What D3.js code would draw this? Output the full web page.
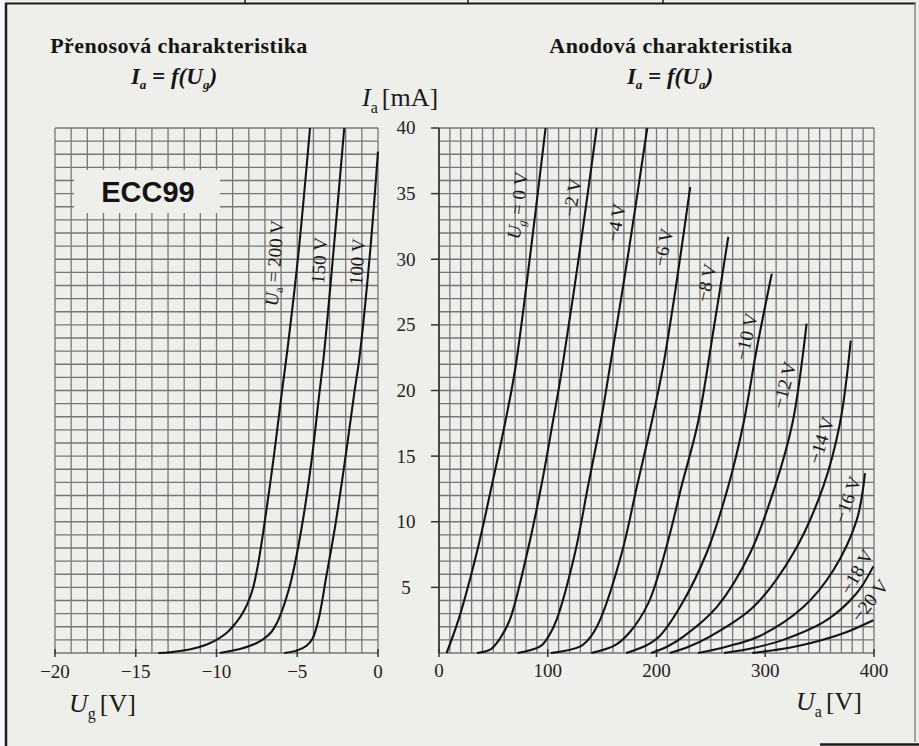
<!DOCTYPE html>
<html><head><meta charset="utf-8">
<script src="https://cdn.jsdelivr.net/npm/d3@7"></script>
<style>
html,body{margin:0;padding:0;background:#eeeeeb;}
svg{display:block;}
.serif{font-family:"Liberation Serif","DejaVu Serif","Noto Serif","Times New Roman",Times,serif;}
.sans{font-family:"Liberation Sans","DejaVu Sans",Arial,sans-serif;}
</style></head><body>
<svg id="c" width="919" height="746"></svg>
<script>
// ---------------- DATA ----------------
const tubeName = "ECC99";
const leftTitle = "Přenosová charakteristika";
const rightTitle = "Anodová charakteristika";
const ugTicks = [-20, -15, -10, -5, 0];
const uaTicks = [0, 100, 200, 300, 400];
const iaTicks = [5, 10, 15, 20, 25, 30, 35, 40];

// transfer characteristic Ia = f(Ug) for Ua = 200, 150, 100 V  ([Ug V, Ia mA])
const transferLabels = ["200 V", "150 V", "100 V"];
const tr200 = [[-13.6,0],[-12.9,0.05],[-11.6,0.28],[-10.6,0.65],[-10,1.0],[-9.4,1.5],[-9,2.0],[-8.5,2.8],[-8.1,3.7],[-7.75,4.9],[-7.45,6.6],[-7.06,9.6],[-6.48,14.7],[-5.96,19.8],[-5.6,23.2],[-4.93,30.4],[-4.21,40]];
const tr150 = [[-9.8,0],[-8.55,0.3],[-7.6,0.7],[-7.1,1.05],[-6.6,1.6],[-6.27,2.26],[-5.95,3.2],[-5.65,4.3],[-5.34,5.7],[-4.72,9.6],[-4.11,14.7],[-3.63,19.8],[-3.36,22.6],[-2.77,30.4],[-2.09,40]];
const tr100 = [[-5.8,0],[-5,0.2],[-4.42,0.55],[-4.05,1.1],[-3.82,1.9],[-3.62,2.9],[-3.45,4.0],[-3.22,5.7],[-2.66,9.6],[-2.04,14.7],[-1.47,19.8],[-1.14,22.6],[-0.5,30.4],[0,38.2]];

// anode characteristic Ia = f(Ua) for Ug = 0 ... -20 V  ([Ua V, Ia mA])
const anodeLabels = ["= 0 V","−2 V","−4 V","−6 V","−8 V","−10 V","−12 V","−14 V","−16 V","−18 V","−20 V"];
const ug0   = [[7,0],[17.8,2.5],[34.6,7.6],[48.4,12.7],[61.3,17.75],[70,21.6],[84,30.4],[98,40]];
const ug2   = [[35,0],[47,0.25],[56,1.1],[65,2.5],[81,7.6],[94,12.7],[105,17.75],[112.5,21.3],[129,30.4],[145,40]];
const ug4   = [[72,0],[93,0.5],[101,1.3],[108,2.5],[125,7.6],[137,12.7],[149,17.75],[156,21.2],[174,30.4],[191.5,40]];
const ug6   = [[103,0],[130,0.5],[140,1.3],[148,2.5],[168,7.6],[182,12.7],[196,17.75],[206,21.8],[218,28],[231,35.5]];
const ug8   = [[140,0],[162,0.6],[175.6,1.6],[192.5,3.8],[203,6.3],[212.4,9.1],[223,12.7],[238,17.5],[252,24.4],[266,31.7]];
const ug10  = [[172,0],[190,0.55],[203,1.3],[221.6,3.5],[246,7.6],[266,12.7],[280,17.5],[292,23.1],[306,28.9]];
const ug12  = [[195,0],[210,0.5],[224.7,1.25],[255.4,3.5],[286,7.6],[309,12.7],[325,17.5],[338,25.1]];
const ug14  = [[212,0],[230,0.5],[249,1.25],[289,3.5],[325.8,7.6],[353.4,12.7],[368.7,17.5],[378.6,23.8]];
const ug16  = [[238,0],[265,0.5],[295,1.3],[335,3.5],[362.6,6.3],[384,10.1],[391.7,13.7]];
const ug18  = [[262,0],[290,0.4],[316.6,1.0],[356.5,2.5],[384,4.55],[399.4,6.6]];
const ug20  = [[288,0],[315,0.3],[341,0.74],[371.8,1.5],[399.4,2.5]];

// ---------------- LAYOUT ----------------
const W = 919, H = 746;
const svg = d3.select("#c");
const BG = "#eeeeeb", GRID = "#767676", INK = "#141414";

svg.append("rect").attr("width", W).attr("height", H).attr("fill", BG);
svg.append("rect").attr("width", 5).attr("height", H).attr("fill", "#f7f7f7");

const yS = d3.scaleLinear().domain([0, 40]).range([653, 128]);
const xL = d3.scaleLinear().domain([-20, 0]).range([55, 378]);
const xR = d3.scaleLinear().domain([0, 400]).range([439, 874]);

const defs = svg.append("defs");
defs.append("clipPath").attr("id", "clipL").append("rect")
  .attr("x", xL(-20)).attr("y", yS(40) - 2).attr("width", xL(0) - xL(-20) + 2).attr("height", yS(0) - yS(40) + 3);
defs.append("clipPath").attr("id", "clipR").append("rect")
  .attr("x", xR(0)).attr("y", yS(40) - 2).attr("width", xR(400) - xR(0) + 2).attr("height", yS(0) - yS(40) + 3);

function grid(g, xs, xStep, yStep) {
  const [x0, x1] = xs.domain();
  const xv = d3.range(x0, x1 + xStep / 2, xStep);
  const yv = d3.range(0, 40 + yStep / 2, yStep);
  g.selectAll(".v").data(xv).join("line")
    .attr("x1", d => xs(d)).attr("x2", d => xs(d))
    .attr("y1", yS(0)).attr("y2", yS(40))
    .attr("stroke", GRID).attr("stroke-width", 1.3);
  g.selectAll(".h").data(yv).join("line")
    .attr("x1", xs(x0)).attr("x2", xs(x1))
    .attr("y1", d => yS(d)).attr("y2", d => yS(d))
    .attr("stroke", GRID).attr("stroke-width", 1.3);
}
grid(svg.append("g"), xL, 1, 1);
grid(svg.append("g"), xR, 10, 1);

// ECC99 box
svg.append("rect").attr("x", 74).attr("y", 170).attr("width", 146).attr("height", 43).attr("fill", BG);
svg.append("text").attr("class", "sans").attr("x", 148).attr("y", 202).attr("text-anchor", "middle")
  .attr("font-weight", "bold").attr("font-size", 29).attr("fill", INK)
  .text(tubeName);

// axes lines & ticks
svg.append("line").attr("x1", xR(0)).attr("x2", xR(0)).attr("y1", yS(0)).attr("y2", yS(40))
  .attr("stroke", "#333").attr("stroke-width", 1.6);
svg.selectAll(".yt").data(iaTicks).join("line")
  .attr("x1", xR(0) - 8).attr("x2", xR(0)).attr("y1", d => yS(d)).attr("y2", d => yS(d))
  .attr("stroke", "#333").attr("stroke-width", 1.5);
svg.selectAll(".ytl").data(iaTicks).join("text").attr("class", "serif")
  .attr("x", 406).attr("y", d => yS(d)).attr("dy", "0.34em").attr("text-anchor", "middle")
  .attr("font-size", 19).attr("fill", "#222").text(d => d);

svg.selectAll(".xlt").data(ugTicks).join("line")
  .attr("x1", d => xL(d)).attr("x2", d => xL(d)).attr("y1", yS(0) - 4).attr("y2", yS(0) + 4)
  .attr("stroke", "#333").attr("stroke-width", 1.5);
svg.selectAll(".xll").data(ugTicks).join("text").attr("class", "serif")
  .attr("x", d => xL(d)).attr("y", 678).attr("text-anchor", "middle")
  .attr("font-size", 19).attr("fill", "#222")
  .text(d => d < 0 ? "−" + Math.abs(d) : d);
svg.selectAll(".xrt").data(uaTicks).join("line")
  .attr("x1", d => xR(d)).attr("x2", d => xR(d)).attr("y1", yS(0) - 4).attr("y2", yS(0) + 4)
  .attr("stroke", "#333").attr("stroke-width", 1.5);
svg.selectAll(".xrl").data(uaTicks).join("text").attr("class", "serif")
  .attr("x", d => xR(d)).attr("y", 677).attr("text-anchor", "middle")
  .attr("font-size", 19).attr("fill", "#222").text(d => d);

// curves
const lineL = d3.line().x(d => xL(d[0])).y(d => yS(d[1])).curve(d3.curveCatmullRom.alpha(0.5));
const lineR = d3.line().x(d => xR(d[0])).y(d => yS(d[1])).curve(d3.curveCatmullRom.alpha(0.5));
svg.append("g").attr("clip-path", "url(#clipL)").selectAll("path").data([tr200, tr150, tr100]).join("path")
  .attr("d", lineL).attr("fill", "none").attr("stroke", INK).attr("stroke-width", 2.1)
  .attr("stroke-linejoin", "round");
svg.append("g").attr("clip-path", "url(#clipR)").selectAll("path").data([ug0, ug2, ug4, ug6, ug8, ug10, ug12, ug14, ug16, ug18, ug20]).join("path")
  .attr("d", lineR).attr("fill", "none").attr("stroke", INK).attr("stroke-width", 2.1)
  .attr("stroke-linejoin", "round");

// curve labels (placement in data units + rotation)
const LBL = 19;
const leftLabelPos = [[-6.44, 29.7, -86], [-3.65, 29.9, -86], [-1.3, 29.8, -86]];
leftLabelPos.forEach((p, i) => {
  const t = svg.append("text").attr("class", "serif")
    .attr("transform", `translate(${xL(p[0])},${yS(p[1])}) rotate(${p[2]})`)
    .attr("text-anchor", "middle").attr("dy", "0.35em")
    .attr("font-size", LBL).attr("fill", "#1a1a1a");
  if (i === 0) {
    t.append("tspan").attr("font-style", "italic").text("U");
    t.append("tspan").attr("font-size", 12).attr("dy", 4).text("a");
    t.append("tspan").attr("dy", -4).text(" = " + transferLabels[i]);
  } else {
    t.text(transferLabels[i]);
  }
});
const rightLabelPos = [[72, 34.1, -83], [122.3, 34.7, -80], [162.5, 32.8, -79], [206, 30.9, -78],
  [245.5, 28.2, -77], [282.3, 24.1, -77], [317.2, 20.4, -75], [351.2, 16.2, -72],
  [375.5, 11.7, -70], [384, 6.2, -60], [396, 4.0, -52]];
rightLabelPos.forEach((p, i) => {
  const t = svg.append("text").attr("class", "serif")
    .attr("transform", `translate(${xR(p[0])},${yS(p[1])}) rotate(${p[2]})`)
    .attr("text-anchor", "middle").attr("dy", "0.35em")
    .attr("font-size", LBL).attr("fill", "#1a1a1a");
  if (i === 0) {
    t.append("tspan").attr("font-style", "italic").text("U");
    t.append("tspan").attr("font-size", 12).attr("font-style", "italic").attr("dy", 4).text("g");
    t.append("tspan").attr("dy", -4).text(" " + anodeLabels[i]);
  } else {
    t.text(anodeLabels[i]);
  }
});

// titles
function title(x, txt) {
  svg.append("text").attr("class", "serif").attr("x", x).attr("y", 53).attr("text-anchor", "middle")
    .attr("font-weight", "bold").attr("font-size", 22).attr("letter-spacing", 0.4)
    .attr("fill", INK).text(txt);
}
title(179, leftTitle);
title(671, rightTitle);
function formula(x, sub) {
  const t = svg.append("text").attr("class", "serif").attr("x", x).attr("y", 84).attr("text-anchor", "middle")
    .attr("font-weight", "bold").attr("font-style", "italic")
    .attr("font-size", 23).attr("fill", INK);
  t.append("tspan").text("I");
  t.append("tspan").attr("font-size", 13).attr("dy", 5).text("a");
  t.append("tspan").attr("dy", -5).text(" = f(U");
  t.append("tspan").attr("font-size", 13).attr("dy", 5).text(sub);
  t.append("tspan").attr("dy", -5).text(")");
}
formula(174, "g");
formula(670, "a");

// axis titles
function axisTitle(x, y, main, sub, unit) {
  const t = svg.append("text").attr("class", "serif").attr("x", x).attr("y", y)
    .attr("font-size", 26).attr("fill", "#1a1a1a");
  t.append("tspan").attr("font-style", "italic").text(main);
  t.append("tspan").attr("font-size", 16).attr("dy", 7).text(sub);
  t.append("tspan").attr("dy", -7).attr("dx", 4).text(unit);
}
axisTitle(69, 712, "U", "g", "[V]");
axisTitle(796, 710, "U", "a", "[V]");
axisTitle(362, 106, "I", "a", "[mA]");

// frame
const fr = svg.append("g").attr("stroke", "#1c1c1c").attr("fill", "none");
fr.append("line").attr("x1", 5).attr("x2", 916).attr("y1", 3.5).attr("y2", 3.5).attr("stroke-width", 2);
fr.append("line").attr("x1", 6).attr("x2", 6).attr("y1", 3).attr("y2", H).attr("stroke-width", 2.5);
fr.append("line").attr("x1", 915).attr("x2", 915).attr("y1", 3).attr("y2", 742).attr("stroke-width", 1.5).attr("stroke", "#8a8a8a");
fr.append("line").attr("x1", 820).attr("x2", 919).attr("y1", 744.5).attr("y2", 744.5).attr("stroke-width", 2.5);
[245, 468, 663].forEach(x => fr.append("line").attr("x1", x).attr("x2", x).attr("y1", 0).attr("y2", 4).attr("stroke-width", 1.5));
</script>
</body></html>
